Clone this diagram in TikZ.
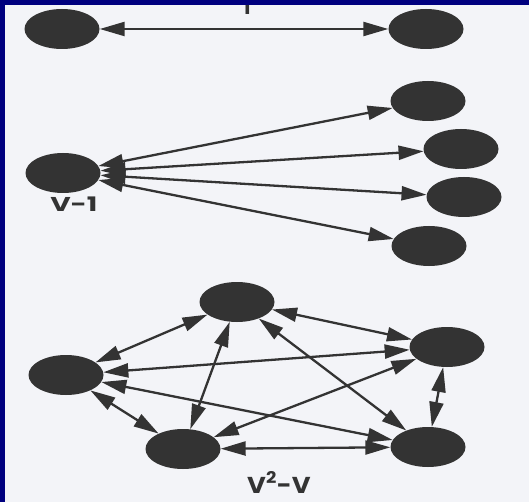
\documentclass[tikz,border=0pt]{standalone}
\usepackage{fontspec}
\setmainfont{Poppins}
\usetikzlibrary{shapes.geometric,arrows.meta}
\definecolor{pagebg}{HTML}{F3F4F8}
\definecolor{navy}{HTML}{00007F}
\definecolor{blob}{HTML}{333333}
\begin{document}
\begin{tikzpicture}[x=1pt,y=-1pt,
  vtx/.style={ellipse,fill=blob,draw=none,minimum width=75pt,minimum height=40pt,inner sep=0pt},
  link/.style={draw=blob,line width=2.3pt,{Triangle[length=25pt,width=14pt]}-{Triangle[length=25pt,width=14pt]}},
  lbl/.style={font=\bfseries,text=blob,inner sep=0pt}]
\useasboundingbox (0,0) rectangle (529,502);
\clip (0,0) rectangle (529,502);
\fill[pagebg] (0,0) rectangle (529,502);
% top pair
\node[vtx] (a1) at (62,29) {};
\node[vtx] (a2) at (426,29) {};
\draw[link] (a1) -- (a2);
\node[lbl,font=\bfseries\fontsize{20}{20}\selectfont,anchor=base] (one) at (247,15) {1};
% star group
\node[vtx] (h) at (63,173) {};
\node[vtx] (r1) at (428,101) {};
\node[vtx] (r2) at (461,149) {};
\node[vtx] (r3) at (464,197) {};
\node[vtx] (r4) at (429,246) {};
\draw[link] (h) -- (r1);
\draw[link] (h) -- (r2);
\draw[link] (h) -- (r3);
\draw[link] (h) -- (r4);
\node[lbl,font=\bfseries\fontsize{20}{20}\selectfont,anchor=base west,xscale=1.4] (v1) at (50,212) {V-1};
% complete group
\node[vtx] (t) at (237,302) {};
\node[vtx] (rr) at (447,347) {};
\node[vtx] (l) at (66,375) {};
\node[vtx] (bl) at (183,449) {};
\node[vtx] (br) at (428,447) {};
\draw[link] (t) -- (l);
\draw[link] (t) -- (rr);
\draw[link] (t) -- (bl);
\draw[link] (t) -- (br);
\draw[link] (l) -- (rr);
\draw[link] (l) -- (bl);
\draw[link] (l) -- (br);
\draw[link] (rr) -- (bl);
\draw[link] (rr) -- (br);
\draw[link] (bl) -- (br);
\node[lbl,font=\bfseries\fontsize{23}{23}\selectfont,anchor=base west,xscale=1.12] (v2) at (247,493) {V\textsuperscript{2}-V};
% frame
\fill[navy] (0,0) rectangle (529,5);
\fill[navy] (0,0) rectangle (5,502);
\end{tikzpicture}
\end{document}
